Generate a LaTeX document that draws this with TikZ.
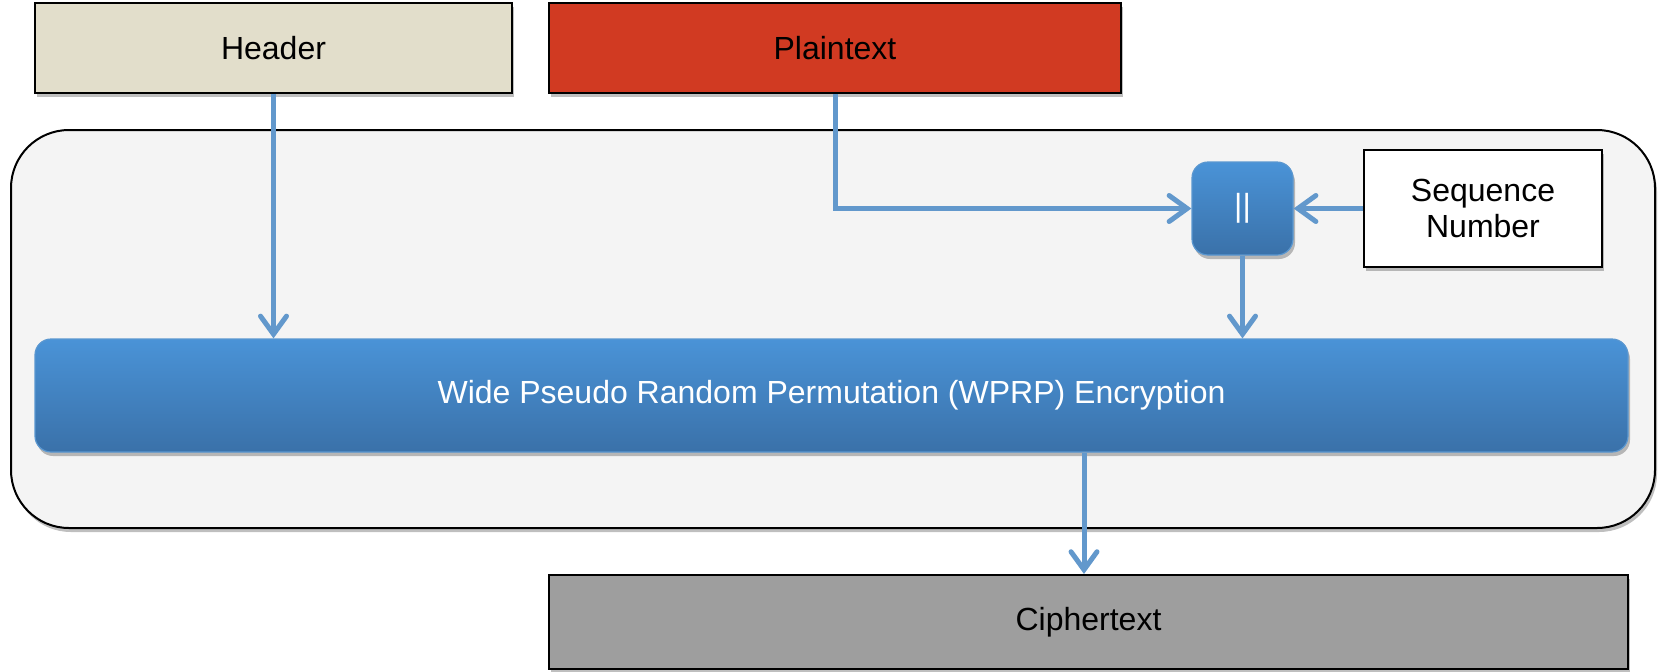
\documentclass[tikz,border=0pt]{standalone}
\usepackage{fontspec}
\setmainfont{Liberation Sans}
\usetikzlibrary{arrows.meta,shadows,calc}
\definecolor{hdrfill}{HTML}{E2DECB}
\definecolor{ptfill}{HTML}{D13A22}
\definecolor{ctfill}{HTML}{9E9E9E}
\definecolor{outerfill}{HTML}{F4F4F4}
\definecolor{bluetop}{HTML}{4A93D7}
\definecolor{bluebot}{HTML}{3A71A9}
\definecolor{blueedge}{HTML}{5A97D0}
\definecolor{arrowblue}{HTML}{6298CC}
\tikzset{
  shad/.style={drop shadow={shadow xshift=1pt,shadow yshift=-2pt,opacity=0.25,fill=black}},
  plainbox/.style={draw=black,line width=1pt,rectangle,inner sep=0pt,shad,
    font=\fontsize{16}{18}\selectfont},
  bluebox/.style={draw=blueedge,line width=0.6pt,rectangle,rounded corners=8pt,inner sep=0pt,
    top color=bluetop,bottom color=bluebot,shad,text=white,
    font=\fontsize{16}{18}\selectfont},
  flow/.style={draw=arrowblue,line width=2.5pt,
    -{Straight Barb[length=9pt,width=13pt,line width=2.5pt,line cap=round]}},
}
\begin{document}
\begin{tikzpicture}[x=0.5pt,y=-0.5pt]
\useasboundingbox (0,0) rectangle (1661,671);
% outer container
\draw[fill=outerfill,draw=black,line width=1pt,rounded corners=29pt,shad]
  (11,130) rectangle (1655,528);
% top boxes
\node[plainbox,fill=hdrfill,minimum width=238.5pt,minimum height=45pt] (hdr) at (273.5,48) {Header};
\node[plainbox,fill=ptfill,minimum width=286pt,minimum height=45pt] (pt) at (835,48) {Plaintext};
% concat box
\node[bluebox,minimum width=50.5pt,minimum height=46.5pt] (cc) at (1242.5,208.5) {||};
% sequence number
\node[plainbox,fill=white,minimum width=119pt,minimum height=58.5pt,align=center] (seq) at (1483,208.5) {Sequence\\Number};
% WPRP
\node[bluebox,minimum width=796.5pt,minimum height=56.5pt] (wprp) at (831.5,395.5) {Wide Pseudo Random Permutation (WPRP) Encryption};
% ciphertext
\node[plainbox,fill=ctfill,minimum width=539.5pt,minimum height=47pt] (ct) at (1088.5,622) {Ciphertext};
% connectors
\draw[flow] (hdr.south) -- (hdr.south |- wprp.north);
\draw[flow] (pt.south) |- (cc.west);
\draw[flow] (seq.west) -- (cc.east);
\draw[flow] (cc.south) -- (cc.south |- wprp.north);
\coordinate (outp) at ($(wprp.south)+(252.5,0)$);
\draw[flow] (outp) -- (outp |- ct.north);
\end{tikzpicture}
\end{document}
